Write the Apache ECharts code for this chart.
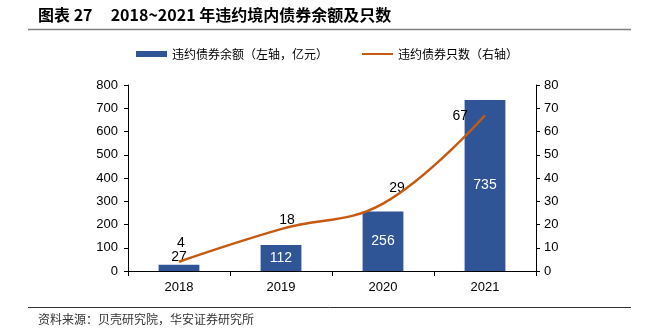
<!DOCTYPE html>
<html><head><meta charset="utf-8">
<script src="https://cdn.jsdelivr.net/npm/echarts@6/dist/echarts.min.js"></script>
<style>html,body{margin:0;padding:0;background:#fff}#c{width:645px;height:332px}</style>
</head><body><div id="c"></div>
<script>
const categories = ['2018', '2019', '2020', '2021'];
const amountValues = [27, 112, 256, 735];
const countValues = [4, 18, 29, 67];
const leftTicks = [0, 800, 100];
const rightTicks = [0, 80, 10];

const cjk = '"Noto Sans CJK SC", sans-serif';
const num = '"Liberation Sans", Arial, sans-serif';

const chart = echarts.init(document.getElementById('c'));
const barData = amountValues.map((v, i) => ({
  value: v,
  label: i === 0 ? { position: 'top', color: '#000', distance: 1 } : {}
}));
const lineLabelCfg = [
  { position: 'top', offset: [2, -7] },
  { position: 'top', offset: [6, 3] },
  { position: 'top', offset: [14, -3] },
  { position: 'left', offset: [-12, 1] }
];
const labelData = countValues.map((v, i) => ({ value: v, label: lineLabelCfg[i] }));

chart.setOption({
  animation: false,
  textStyle: { fontFamily: num },
  grid: { left: 128, right: 109, top: 85, bottom: 61 },
  legend: {
    top: 48, left: 136, itemGap: 33, itemWidth: 31, itemHeight: 6, padding: 0,
    textStyle: { fontFamily: cjk, fontSize: 12, color: '#000' },
    data: [
      { name: '违约债券余额（左轴，亿元）', icon: 'rect' },
      { name: '违约债券只数（右轴）', itemStyle: { opacity: 0 } }
    ]
  },
  xAxis: {
    type: 'category', data: categories,
    axisLine: { lineStyle: { color: '#000', width: 1 } },
    axisTick: { show: true, length: 5, lineStyle: { color: '#000' } },
    axisLabel: { color: '#000', fontSize: 13, margin: 10, fontFamily: num }
  },
  yAxis: [
    {
      type: 'value', min: leftTicks[0], max: leftTicks[1], interval: leftTicks[2],
      axisLine: { show: true, lineStyle: { color: '#000' } },
      axisTick: { show: true, length: 4, lineStyle: { color: '#000' } },
      axisLabel: { color: '#000', fontSize: 13, margin: 10, fontFamily: num },
      splitLine: { show: false }
    },
    {
      type: 'value', min: rightTicks[0], max: rightTicks[1], interval: rightTicks[2],
      position: 'right',
      axisLine: { show: true, lineStyle: { color: '#000' } },
      axisTick: { show: true, length: 4, lineStyle: { color: '#000' } },
      axisLabel: { color: '#000', fontSize: 13, margin: 8, fontFamily: num },
      splitLine: { show: false }
    }
  ],
  series: [
    {
      name: '违约债券余额（左轴，亿元）', type: 'bar', yAxisIndex: 0,
      data: barData, barWidth: '40%',
      itemStyle: { color: '#2F5597' },
      label: { show: true, position: 'inside', color: '#fff', fontSize: 14, fontFamily: num }
    },
    {
      name: '违约债券只数（右轴）', type: 'line', yAxisIndex: 1,
      data: countValues, smooth: 0.4, symbol: 'none',
      lineStyle: { color: '#C55A11', width: 2.5 },
      itemStyle: { color: '#C55A11' }
    },
    {
      name: 'countLabels', type: 'scatter', yAxisIndex: 1,
      data: labelData, symbolSize: 0, itemStyle: { color: 'transparent' },
      label: { show: true, color: '#000', fontSize: 14, fontFamily: num, opacity: 1 },
      silent: true
    }
  ],
  graphic: [
    { type: 'text', left: 38, top: 7, style: { text: '图表 27     2018~2021 年违约境内债券余额及只数', font: 'bold 16px "Noto Sans CJK SC", sans-serif', fill: '#000' } },
    { type: 'line', shape: { x1: 28, y1: 29.5, x2: 631, y2: 29.5 }, style: { stroke: '#7f7f7f', lineWidth: 1.5 } },
    { type: 'line', shape: { x1: 28, y1: 307.5, x2: 631, y2: 307.5 }, style: { stroke: '#333', lineWidth: 1 } },
    { type: 'text', left: 38, top: 313, style: { text: '资料来源：贝壳研究院，华安证券研究所', font: '12px "Noto Sans CJK SC", sans-serif', fill: '#333' } }
  ]
});
</script></body></html>
